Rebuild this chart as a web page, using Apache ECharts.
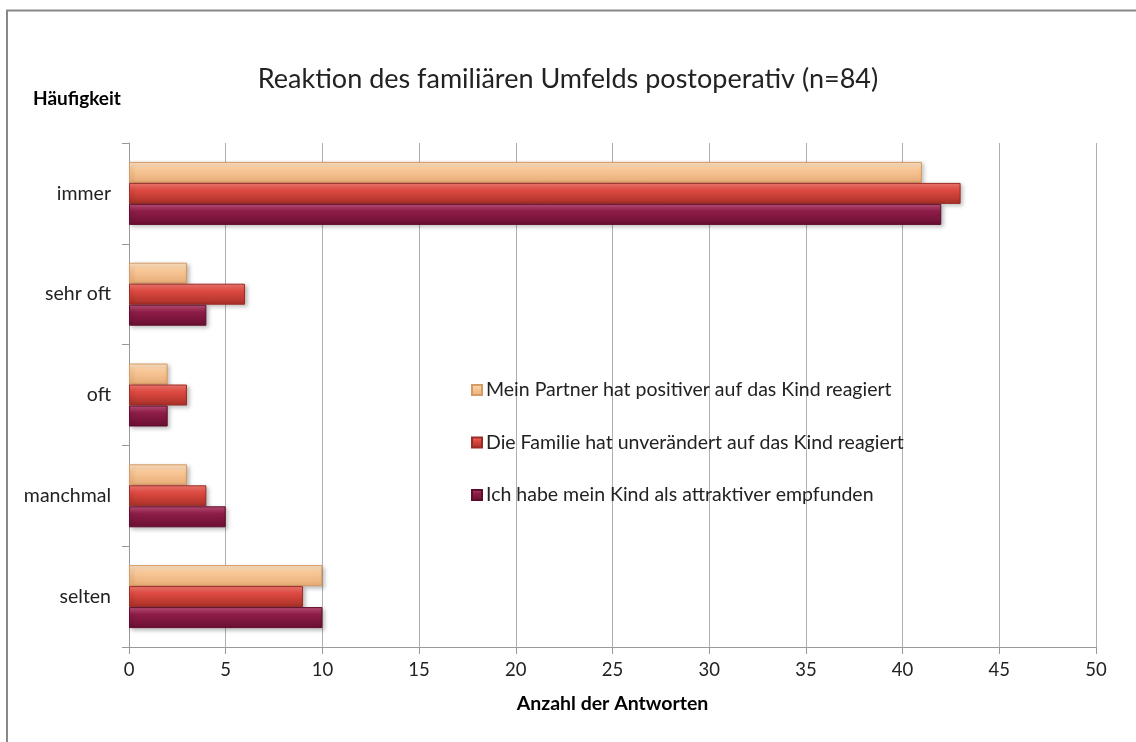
<!DOCTYPE html>
<html>
<head>
<meta charset="utf-8">
<script src="https://cdn.jsdelivr.net/npm/echarts@6/dist/echarts.min.js"></script>
<style>
html, body { margin: 0; padding: 0; background: #fff; }
#chart { width: 1136px; height: 742px; }
</style>
</head>
<body>
<div id="chart"></div>
<script>
// Daten (von oben nach unten)
var kategorien = ['immer', 'sehr oft', 'oft', 'manchmal', 'selten'];
var partner = [41, 3, 2, 3, 10];
var familie = [43, 6, 3, 4, 9];
var ichSelbst = [42, 4, 2, 5, 10];
var serienNamen = [
    'Mein Partner hat positiver auf das Kind reagiert',
    'Die Familie hat unverändert auf das Kind reagiert',
    'Ich habe mein Kind als attraktiver empfunden'
];
var xTicks = [0, 5, 10, 15, 20, 25, 30, 35, 40, 45, 50];

var font = 'Lato, "Open Sans", sans-serif';

function verlauf(hell, mitte, dunkel) {
    return new echarts.graphic.LinearGradient(0, 0, 0, 1, [
        {offset: 0, color: hell},
        {offset: 0.35, color: mitte},
        {offset: 1, color: dunkel}
    ]);
}

function serie(name, data, farbe, rand) {
    return {
        name: name,
        type: 'bar',
        data: data,
        barWidth: 21,
        barGap: '0%',
        itemStyle: {
            color: farbe,
            borderColor: rand,
            borderWidth: 1,
            shadowColor: 'rgba(0,0,0,0.25)',
            shadowBlur: 4,
            shadowOffsetX: 2,
            shadowOffsetY: 2
        }
    };
}

var chart = echarts.init(document.getElementById('chart'));
var option = {
    backgroundColor: '#fff',
    animation: false,
    title: {
        text: 'Reaktion des familiären Umfelds postoperativ (n=84)',
        left: 'center',
        top: 61,
        textStyle: {fontFamily: font, fontWeight: 'normal', fontSize: 27, color: '#222'}
    },
    graphic: [
        {type: 'rect', shape: {x: 7, y: 10.5, width: 1140, height: 740},
         style: {fill: 'none', stroke: '#888', lineWidth: 2}, silent: true},
        {type: 'text', left: 33, top: 89,
         style: {text: 'Häufigkeit', font: 'bold 19px ' + font, fill: '#000'}}
    ],
    legend: {
        orient: 'vertical',
        left: 466,
        top: 375,
        itemGap: 32.5,
        itemWidth: 10,
        itemHeight: 10,
        icon: 'rect',
        data: serienNamen,
        textStyle: {fontFamily: font, fontSize: 19.5, color: '#222', padding: [0, 0, 0, -1]}
    },
    grid: {left: 129, right: 40, top: 143, bottom: 95},
    xAxis: {
        type: 'value',
        min: 0,
        max: 50,
        interval: 5,
        name: 'Anzahl der Antworten',
        nameLocation: 'middle',
        nameGap: 47,
        nameTextStyle: {fontFamily: font, fontWeight: 'bold', fontSize: 19.5, color: '#000'},
        axisLine: {show: true, lineStyle: {color: '#999'}},
        axisTick: {show: true, length: 7, inside: false, lineStyle: {color: '#999'}},
        axisLabel: {fontFamily: font, fontSize: 18.5, color: '#222', margin: 14,
            formatter: function (v) { return xTicks.indexOf(v) >= 0 ? String(v) : ''; }},
        splitLine: {show: true, lineStyle: {color: '#b0b0b0'}}
    },
    yAxis: {
        type: 'category',
        data: kategorien,
        inverse: true,
        axisLine: {show: true, lineStyle: {color: '#999'}},
        axisTick: {show: true, length: 7, lineStyle: {color: '#999'}},
        axisLabel: {fontFamily: font, fontSize: 19.5, color: '#222', margin: 18}
    },
    series: [
        serie(serienNamen[0], partner, verlauf('#fde3c6', '#f9c898', '#e7ac76'), '#d69a63'),
        serie(serienNamen[1], familie, verlauf('#f57a72', '#de4a42', '#a83027'), '#9a2c25'),
        serie(serienNamen[2], ichSelbst, verlauf('#c0507a', '#8e1d48', '#6a0f32'), '#5e0d2c')
    ]
};
chart.setOption(option);
</script>
</body>
</html>
